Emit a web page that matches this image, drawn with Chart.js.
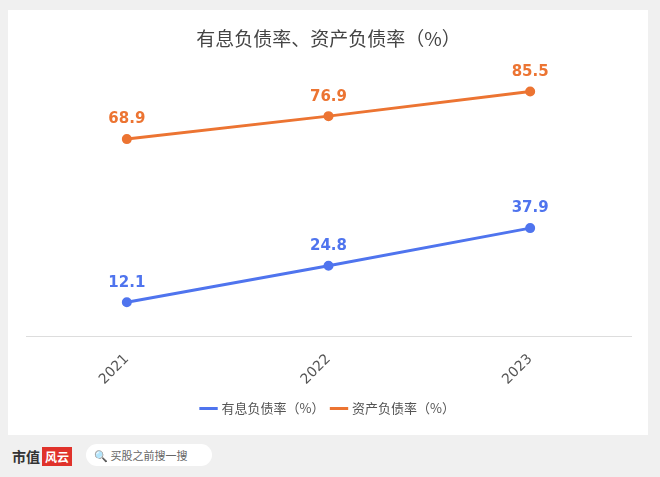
<!DOCTYPE html>
<html><head><meta charset="utf-8">
<script src="https://cdn.jsdelivr.net/npm/chart.js@4"></script>
<style>
body{margin:0;background:#f0f0f0;width:660px;height:477px;position:relative;overflow:hidden;font-family:"Noto Sans CJK SC",sans-serif}
#card{position:absolute;left:8px;top:10px;width:640px;height:425px;background:#fff}
#foot{position:absolute;left:12px;top:446px;font-size:14px;font-weight:bold;color:#333}
#logo{display:inline-block;background:#e0322b;color:#fff;font-size:12px;padding:1px 3px;margin-left:2px}
#search{position:absolute;left:86px;top:444px;width:118px;height:22px;border-radius:11px;background:#fff;font-size:11px;color:#666;line-height:22px;padding-left:8px}
</style></head><body>
<div id="card"><canvas id="c" width="640" height="425"></canvas></div>
<div id="foot">市值<span id="logo">风云</span></div>
<div id="search">🔍 买股之前搜一搜</div>
<script>
'use strict'
var years = ['2021', '2022', '2023'];
var interestDebt = [12.1, 24.8, 37.9];
var assetDebt = [68.9, 76.9, 85.5];

var valueLabels = {
    id: 'valueLabels',
    afterDatasetsDraw: function (chart) {
        var ctx = chart.ctx;
        ctx.save();
        ctx.font = 'bold 15px "DejaVu Sans", sans-serif';
        ctx.textAlign = 'center';
        ctx.textBaseline = 'bottom';
        chart.data.datasets.forEach(function (ds, i) {
            ctx.fillStyle = ds.borderColor;
            chart.getDatasetMeta(i).data.forEach(function (pt, j) {
                ctx.fillText(ds.data[j].toFixed(1), pt.x, pt.y - 12);
            });
        });
        ctx.restore();
    }
};

new Chart(document.getElementById('c'), {
    type: 'line',
    data: {
        labels: years,
        datasets: [{
            label: '有息负债率（%）',
            data: interestDebt,
            borderColor: '#4f74ee',
            backgroundColor: '#4f74ee',
            borderWidth: 3,
            pointRadius: 3.5,
            fill: false
        }, {
            label: '资产负债率（%）',
            data: assetDebt,
            borderColor: '#ec7432',
            backgroundColor: '#ec7432',
            borderWidth: 3,
            pointRadius: 3.5,
            fill: false
        }]
    },
    options: {
        responsive: false,
        animation: false,
        layout: { padding: { left: 18, right: 17, top: 0, bottom: 10 } },
        plugins: {
            title: {
                display: true,
                text: '有息负债率、资产负债率（%）',
                color: '#444',
                font: { size: 19, family: '"Noto Sans CJK SC"', weight: 'normal' },
                padding: { top: 17, bottom: 0 }
            },
            legend: {
                position: 'bottom',
                labels: {
                    color: '#555',
                    font: { size: 13, family: '"Noto Sans CJK SC"' },
                    usePointStyle: true,
                    pointStyle: 'line',
                    boxWidth: 30,
                    padding: 8
                }
            },
            tooltip: { enabled: false }
        },
        scales: {
            y: { display: false, min: 0, max: 100 },
            x: {
                offset: true,
                grid: { display: false },
                border: { color: '#ddd' },
                ticks: {
                    color: '#555',
                    font: { size: 14, family: '"DejaVu Sans"' },
                    minRotation: 45,
                    maxRotation: 45,
                    padding: 6
                }
            }
        }
    },
    plugins: [valueLabels]
});
</script>
</body></html>
